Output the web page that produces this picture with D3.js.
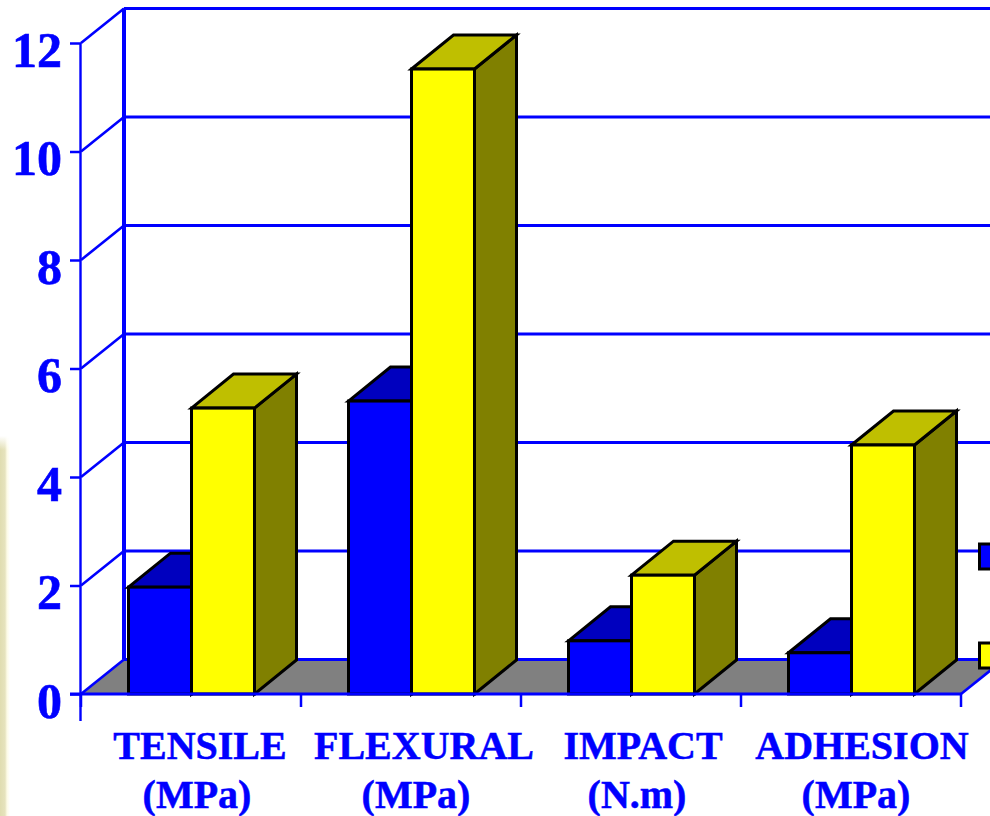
<!DOCTYPE html>
<html>
<head>
<meta charset="utf-8">
<script src="https://cdn.jsdelivr.net/npm/d3@7"></script>
<style>
  html, body { margin: 0; padding: 0; background: #fff; }
  svg { display: block; }
</style>
</head>
<body>
<div id="chart"></div>
<script>
var categories = ['TENSILE', 'FLEXURAL', 'IMPACT', 'ADHESION']
var units = ['(MPa)', '(MPa)', '(N.m)', '(MPa)']
var seriesBlue = [1.97, 5.4, 0.98, 0.76]
var seriesYellow = [5.27, 11.52, 2.19, 4.59]
var yTicks = [0, 2, 4, 6, 8, 10, 12]

var width = 990
var height = 816

// front plane of the 3d box
var x0 = 81
var x1 = 961
var yBottom = 694
var yTop = 43

// how far the back wall is shifted from the front
var depthX = 43
var depthY = -34.5
var barDepthX = 42
var barDepthY = -34

var blue = '#0000ff'
var labelFont = '"Liberation Serif", serif'

var svg = d3
  .select('#chart')
  .append('svg')
  .attr('width', width)
  .attr('height', height)

var xPositionScale = d3
  .scaleBand()
  .domain(categories)
  .range([x0, x1])

var seriesScale = d3
  .scaleBand()
  .domain(['blue', 'yellow'])
  .range([47.5, 173.5])

var yPositionScale = d3
  .scaleLinear()
  .domain([0, 12])
  .range([yBottom, yTop])

// beige edge of the slide on the left
var defs = svg.append('defs')
var edge = defs.append('linearGradient').attr('id', 'edge')
edge.append('stop').attr('offset', '0%').attr('stop-color', '#e0ddb0')
edge.append('stop').attr('offset', '50%').attr('stop-color', '#e6e3bd')
edge.append('stop').attr('offset', '70%').attr('stop-color', '#fdfbe6')
edge.append('stop').attr('offset', '100%').attr('stop-color', '#ffffff')
var edgeFade = defs
  .append('linearGradient')
  .attr('id', 'edge-fade')
  .attr('x2', 0)
  .attr('y2', 1)
edgeFade.append('stop').attr('offset', '0%').attr('stop-color', '#fff').attr('stop-opacity', 1)
edgeFade.append('stop').attr('offset', '100%').attr('stop-color', '#fff').attr('stop-opacity', 0)
svg
  .append('rect')
  .attr('x', 0)
  .attr('y', 436)
  .attr('width', 10)
  .attr('height', height - 436)
  .attr('fill', 'url(#edge)')
svg
  .append('rect')
  .attr('x', 0)
  .attr('y', 436)
  .attr('width', 10)
  .attr('height', 14)
  .attr('fill', 'url(#edge-fade)')

// floor
svg
  .append('polygon')
  .attr('points', [
    [x0, yBottom],
    [x0 + depthX, yBottom + depthY],
    [x1 + depthX, yBottom + depthY],
    [x1, yBottom]
  ].join(' '))
  .attr('fill', '#808080')

// grid lines on the back wall and their side wall links
yTicks.forEach(function(d) {
  var y = yPositionScale(d)
  svg
    .append('line')
    .attr('x1', x0 + depthX)
    .attr('x2', width)
    .attr('y1', y + depthY)
    .attr('y2', y + depthY)
    .attr('stroke', blue)
    .attr('stroke-width', 2.8)
  svg
    .append('line')
    .attr('x1', x0)
    .attr('x2', x0 + depthX)
    .attr('y1', y)
    .attr('y2', y + depthY)
    .attr('stroke', blue)
    .attr('stroke-width', 2.6)
})

// back corner
svg
  .append('line')
  .attr('x1', x0 + depthX)
  .attr('x2', x0 + depthX)
  .attr('y1', yPositionScale(12) + depthY)
  .attr('y2', yBottom + depthY)
  .attr('stroke', blue)
  .attr('stroke-width', 4)

// right floor edge
svg
  .append('line')
  .attr('x1', x1)
  .attr('x2', x1 + depthX)
  .attr('y1', yBottom)
  .attr('y2', yBottom + depthY)
  .attr('stroke', blue)
  .attr('stroke-width', 2.6)

function drawBar(category, series, value, front, top, side) {
  var left = xPositionScale(category) + seriesScale(series)
  var right = left + seriesScale.bandwidth()
  var y = yPositionScale(value)
  var g = svg.append('g').attr('stroke', '#000').attr('stroke-width', 3).attr('stroke-linejoin', 'miter')
  g.append('polygon')
    .attr('points', [
      [right, yBottom],
      [right + barDepthX, yBottom + barDepthY],
      [right + barDepthX, y + barDepthY],
      [right, y]
    ].join(' '))
    .attr('fill', side)
  g.append('polygon')
    .attr('points', [
      [left, y],
      [left + barDepthX, y + barDepthY],
      [right + barDepthX, y + barDepthY],
      [right, y]
    ].join(' '))
    .attr('fill', top)
  g.append('rect')
    .attr('x', left)
    .attr('y', y)
    .attr('width', right - left)
    .attr('height', yBottom - y)
    .attr('fill', front)
}

categories.forEach(function(category, i) {
  drawBar(category, 'blue', seriesBlue[i], '#0000ff', '#0000bf', '#000080')
  drawBar(category, 'yellow', seriesYellow[i], '#ffff00', '#bfbf00', '#808000')
})

// front axes
var yAxis = d3
  .axisLeft(yPositionScale)
  .tickValues(yTicks)
  .tickSize(11)
  .tickPadding(8)

var yAxisG = svg
  .append('g')
  .attr('class', 'axis y-axis')
  .attr('transform', 'translate(' + x0 + ',0)')
  .call(yAxis)
yAxisG.select('.domain').remove()
yAxisG.selectAll('line').attr('stroke', blue).attr('stroke-width', 2.5)
yAxisG
  .selectAll('text')
  .attr('fill', blue)
  .attr('stroke', blue)
  .attr('stroke-width', 0.6)
  .attr('dy', '0.46em')
  .attr('font-family', labelFont)
  .attr('font-weight', 'bold')
  .attr('font-size', 50)

svg
  .append('line')
  .attr('x1', x0 - 0.5)
  .attr('x2', x0 - 0.5)
  .attr('y1', yTop)
  .attr('y2', 721)
  .attr('stroke', blue)
  .attr('stroke-width', 2.4)

svg
  .append('line')
  .attr('x1', x0 - 11)
  .attr('x2', x1)
  .attr('y1', yBottom)
  .attr('y2', yBottom)
  .attr('stroke', blue)
  .attr('stroke-width', 2.8)

// x ticks sit on the band edges
categories.concat(['end']).forEach(function(d, i) {
  var x = i < categories.length ? xPositionScale(d) : x1
  svg
    .append('line')
    .attr('x1', x)
    .attr('x2', x)
    .attr('y1', yBottom)
    .attr('y2', 707)
    .attr('stroke', blue)
    .attr('stroke-width', 2.5)
})

// category labels
var labelOffsets = [9, 13, 12, 11]
var unitOffsets = [-3, -8, -6, -6]
categories.forEach(function(d, i) {
  var cx = xPositionScale(d) + xPositionScale.bandwidth() / 2 + labelOffsets[i]
  svg
    .append('text')
    .text(d)
    .attr('x', cx)
    .attr('y', 759)
    .attr('text-anchor', 'middle')
    .attr('fill', blue)
    .attr('stroke', blue)
    .attr('stroke-width', 0.5)
    .attr('font-family', labelFont)
    .attr('font-weight', 'bold')
    .attr('font-size', 40)
  svg
    .append('text')
    .text(units[i])
    .attr('x', cx + unitOffsets[i])
    .attr('y', 808)
    .attr('text-anchor', 'middle')
    .attr('fill', blue)
    .attr('stroke', blue)
    .attr('stroke-width', 0.5)
    .attr('font-family', labelFont)
    .attr('font-weight', 'bold')
    .attr('font-size', 40)
})

// legend swatches, cut off by the right edge of the picture
var legendColors = ['#0000ff', '#ffff00']
var legendY = d3.scalePoint().domain(legendColors).range([544, 643])
legendColors.forEach(function(c) {
  svg
    .append('rect')
    .attr('x', 979.5)
    .attr('y', legendY(c))
    .attr('width', 30)
    .attr('height', 25)
    .attr('fill', c)
    .attr('stroke', '#000')
    .attr('stroke-width', 3)
})
</script>
</body>
</html>
